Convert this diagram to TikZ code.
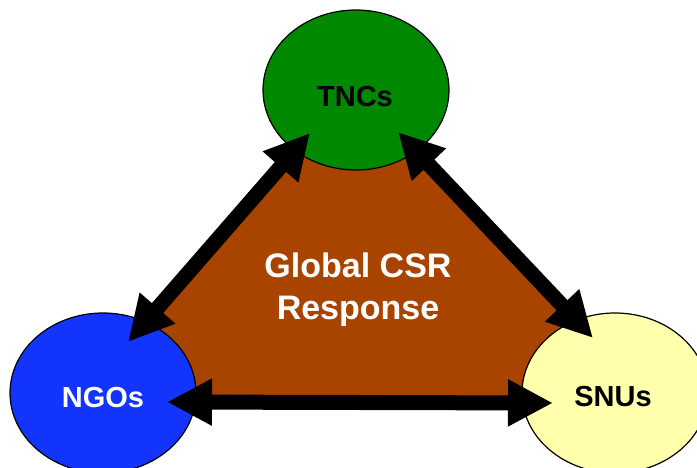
\documentclass[tikz,border=0pt]{standalone}
\usepackage{fontspec}
\setmainfont{Liberation Sans}
\usepackage{xcolor}
\usetikzlibrary{shapes,arrows.meta,positioning,calc}
\definecolor{hijau}{RGB}{0,136,0}
\definecolor{biru}{RGB}{18,52,252}
\definecolor{kuning}{RGB}{255,255,172}
\definecolor{coklat}{RGB}{168,67,0}

\begin{document}
\begin{tikzpicture}[
  x=1pt, y=-1pt,
  pihak/.style={ellipse, draw=black, line width=1.2pt, minimum width=186pt, minimum height=160pt, inner sep=0pt},
  namatag/.style={font=\fontsize{29}{34}\selectfont\bfseries, inner sep=0pt},
  pusat/.style={font=\fontsize{34}{42}\selectfont\bfseries, text=white, align=center, inner sep=0pt},
  panah/.style={{Triangle[length=45pt,width=44pt]}-{Triangle[length=45pt,width=44pt]}, line width=15pt, black}
]
  \useasboundingbox (0,0) rectangle (697,468);
  % area respons
  \fill[coklat] (300,140) -- (406,140) -- (574,318) -- (552,396) -- (168,396) -- (150,318) -- cycle;
  \node[pusat] (resp) at (358,290) {Global CSR\\Response};
  % tiga pihak
  \node[pihak, fill=hijau] (tnc) at (356,90) {};
  \node[pihak, fill=biru] (ngo) at (103,393) {};
  \node[pihak, fill=kuning] (snu) at (615,393) {};
  \node[namatag] (tncT) at ($(tnc)+(-1,7)$) {TNCs};
  \node[namatag, text=white] (ngoT) at ($(ngo)+(0,5)$) {NGOs};
  \node[namatag] (snuT) at ($(snu)+(-2,4)$) {SNUs};
  % hubungan
  \draw[panah] ($(tnc)+(-46,43)$) -- ($(ngo)+(25,-51)$);
  \draw[panah] ($(tnc)+(42,42)$) -- ($(snu)+(-22,-55)$);
  \draw[panah] ($(ngo)+(64,9)$) -- ($(snu)+(-62,10)$);
\end{tikzpicture}
\end{document}
